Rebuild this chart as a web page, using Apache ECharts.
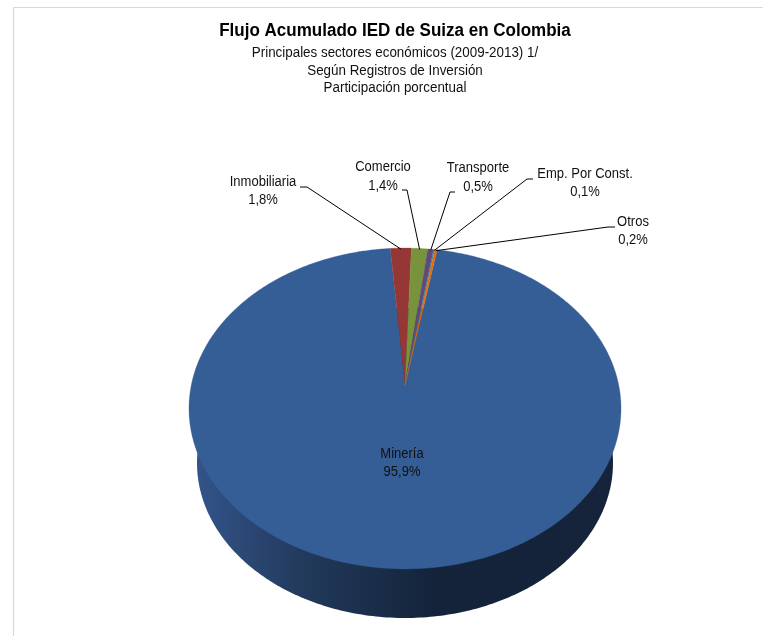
<!DOCTYPE html>
<html><head><meta charset="utf-8">
<style>html,body{margin:0;padding:0;background:#fff}#c{width:763px;height:636px}</style>
<script src="https://cdn.jsdelivr.net/npm/echarts@6/dist/echarts.min.js"></script>
</head><body><div id="c"></div>
<script>
const titleText = 'Flujo Acumulado IED de Suiza en Colombia';
const subtitleLines = ['Principales sectores económicos (2009-2013) 1/', 'Según Registros de Inversión', 'Participación porcentual'];
const sectors = ['Minería', 'Inmobiliaria', 'Comercio', 'Transporte', 'Emp. Por Const.', 'Otros'];
const shares = [95.9, 1.8, 1.4, 0.5, 0.1, 0.2];
const sliceColors = ['#355e96', '#953735', '#77933c', '#604a7b', '#31859c', '#e46c0a'];

// layout of the drawn disc: a circle seen in perspective, far side shrunk
const FONT = '"Liberation Sans", Arial, sans-serif';
const disc = {x: 405, y: 385, a: 213.7, b: 157, k: 0.1464};
const baseFace = {cx: 405, cy: 463, rx: 208, ry: 155};
const startDeg = 9.9;
// per-label layout: [label x, name y, value y, [leader start], [leader elbow]]
const labelLayout = [
  [402, 454, 472, null, null],
  [263, 182, 200, [300, 187], [307, 187]],
  [383, 167, 186, [402, 190], [407, 190]],
  [478, 168, 187, [455, 192], [450, 192]],
  [585, 174, 192, [533, 179], [527, 179]],
  [633, 222, 240, [615, 227], [608, 227]]
];

const total = shares.reduce((a, b) => a + b, 0);
const onDisc = (deg) => {
  const r = deg * Math.PI / 180, u = Math.sin(r), v = Math.cos(r), w = 1 + disc.k * v;
  return [disc.x + disc.a * u / w, disc.y - disc.b * v / w];
};
const onBase = (deg) => {
  const r = deg * Math.PI / 180;
  return [baseFace.cx + baseFace.rx * Math.sin(r), baseFace.cy - baseFace.ry * Math.cos(r)];
};
const spans = [];
shares.reduce((acc, v) => {
  const sweep = v / total * 360;
  spans.push([acc, acc + sweep]);
  return acc + sweep;
}, startDeg);
const fmt = v => v.toFixed(1).replace('.', ',');
const squeezed = (x, y, s, size, scaleX, weight, fill) => ({
  type: 'text', silent: true, x, y, scaleX,
  style: {x: 0, y: 0, text: s, fill, align: 'center', verticalAlign: 'middle',
          font: weight + ' ' + size + 'px ' + FONT}
});
const txt = (x, y, s) => squeezed(x, y, s, 14, 0.93, 'normal', '#111');

const chart = echarts.init(document.getElementById('c'), null, {renderer: 'canvas'});
chart.setOption({
  animation: false,
  backgroundColor: '#fff',
  graphic: [
    {type: 'rect', shape: {x: 13.5, y: 7.5, width: 800, height: 700},
     style: {fill: 'none', stroke: '#d9d9d9', lineWidth: 1.2}, silent: true, z: -1},
    squeezed(395, 31, titleText, 18, 0.945, 'bold', '#000'),
    squeezed(395, 53, subtitleLines[0], 14, 0.956, 'normal', '#111'),
    squeezed(395, 71, subtitleLines[1], 14, 0.956, 'normal', '#111'),
    squeezed(395, 88, subtitleLines[2], 14, 0.956, 'normal', '#111')
  ],
  series: [
    { // disc side
      type: 'custom', coordinateSystem: 'none', silent: true, z: 1,
      data: [total],
      renderItem: () => {
        const pts = [];
        for (let d = 0; d < 360; d += 1) pts.push(onBase(d));
        return {type: 'polygon', shape: {points: pts}, style: {
          fill: new echarts.graphic.LinearGradient(0, 0, 1, 0, [
            {offset: 0, color: '#33538a'},
            {offset: 0.25, color: '#223a5c'},
            {offset: 0.57, color: '#14233a'},
            {offset: 1, color: '#15243a'}
          ])
        }};
      }
    },
    { // slices of the top face
      type: 'custom', coordinateSystem: 'none', silent: true, z: 2,
      data: sectors.map((n, i) => ({name: n, value: [i, shares[i]]})),
      renderItem: (params) => {
        const i = params.dataIndex;
        const [a, b] = spans[i];
        const pts = [[disc.x, disc.y]];
        const steps = Math.max(2, Math.ceil((b - a) * 2));
        for (let k = 0; k <= steps; k++) pts.push(onDisc(a + (b - a) * k / steps));
        return {type: 'polygon', shape: {points: pts},
                style: {fill: sliceColors[i], stroke: sliceColors[i], lineWidth: 0.3}};
      }
    },
    { // labels and leader lines
      type: 'custom', coordinateSystem: 'none', silent: true, z: 3,
      data: sectors.map((n, i) => ({name: n, value: [i, shares[i]]})),
      renderItem: (params) => {
        const i = params.dataIndex;
        const [lx, ny, vy, s, e] = labelLayout[i];
        const children = [txt(lx, ny, sectors[i]), txt(lx, vy, fmt(shares[i]) + '%')];
        if (s) {
          const mid = onDisc((spans[i][0] + spans[i][1]) / 2);
          children.push({type: 'polyline', shape: {points: [s, e, [mid[0], mid[1] + 1]]},
                         style: {fill: 'none', stroke: '#000', lineWidth: 1}});
        }
        return {type: 'group', children};
      }
    }
  ]
});
</script></body></html>
